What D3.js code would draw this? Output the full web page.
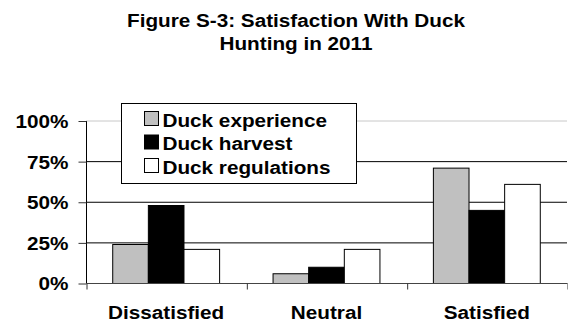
<!DOCTYPE html>
<html>
<head>
<meta charset="utf-8">
<script src="https://cdn.jsdelivr.net/npm/d3@7"></script>
<style>
  body { margin: 0; background: #fff; }
  text { font-family: "Liberation Sans", Arial, sans-serif; font-weight: bold; fill: #000; }
</style>
</head>
<body>
<div class="container"></div>
<script>
const categories = ["Dissatisfied", "Neutral", "Satisfied"]
const seriesNames = ["Duck experience", "Duck harvest", "Duck regulations"]
const experience = [24, 6, 71]
const harvest = [48, 10, 45]
const regulations = [21, 21, 61]
const yTicks = [0, 25, 50, 75, 100]

const w = 568
const h = 327
const colors = ["#c0c0c0", "#000000", "#ffffff"]
const series = [experience, harvest, regulations]

// the original picture is a bit wider than it is tall, so text gets stretched
const stretch = sel => sel.each(function () {
    const len = this.getComputedTextLength()
    d3.select(this).attr("textLength", len * 1.15).attr("lengthAdjust", "spacingAndGlyphs")
})

const svg = d3.select(".container")
              .append("svg")
              .attr("width", w)
              .attr("height", h)

// title
svg.append("text")
   .attr("x", 296).attr("y", 27)
   .attr("text-anchor", "middle")
   .style("font-size", "18px")
   .text("Figure S-3: Satisfaction With Duck")
   .call(stretch)
svg.append("text")
   .attr("x", 296).attr("y", 50)
   .attr("text-anchor", "middle")
   .style("font-size", "18px")
   .text("Hunting in 2011")
   .call(stretch)

const plotLeft = 86, plotRight = 567, plotTop = 121, plotBottom = 283.5

const xScale = d3.scaleBand()
                 .domain(categories)
                 .range([plotLeft, plotRight])
const xInner = d3.scaleBand()
                 .domain(d3.range(series.length))
                 .range([0, xScale.bandwidth()])
                 .paddingOuter(0.75)
const yScale = d3.scaleLinear()
                 .domain([0, 100])
                 .range([plotBottom, plotTop])

// gridlines
svg.append("g")
   .selectAll("line")
   .data(yTicks.filter(d => d > 0))
   .enter()
   .append("line")
   .attr("x1", plotLeft).attr("x2", plotRight)
   .attr("y1", d => yScale(d)).attr("y2", d => yScale(d))
   .attr("stroke", d => d == 100 ? "#c8c8c8" : "#000")
   .attr("stroke-width", 1)

// bars
categories.forEach((c, ci) => {
    svg.append("g")
       .selectAll("rect")
       .data(series.map((s, si) => ({ v: s[ci], si: si })))
       .enter()
       .append("rect")
       .attr("x", d => xScale(c) + xInner(d.si))
       .attr("y", d => yScale(d.v))
       .attr("width", xInner.bandwidth())
       .attr("height", d => plotBottom - yScale(d.v))
       .attr("fill", d => colors[d.si])
       .attr("stroke", "#000")
       .attr("stroke-width", 1)
})

// axes
const yAxis = d3.axisLeft(yScale)
                .tickValues(yTicks)
                .tickFormat(d => d + "%")
                .tickSize(8)
                .tickPadding(10)
svg.append("g")
   .attr("transform", `translate(${plotLeft + 0.5}, 0)`)
   .call(yAxis)
   .call(g => g.select(".domain").attr("stroke", "#000").attr("d", `M0,${plotTop}V${plotBottom}`))
   .call(g => g.selectAll("line").attr("stroke", "#333"))
   .call(g => g.selectAll("text").attr("font-family", null).attr("font-size", null)
                .style("font-size", "18px").attr("dy", "0.36em").call(stretch))

const xAxis = d3.axisBottom(d3.scaleLinear().domain([0, 3]).range([plotLeft, plotRight]))
                .tickValues([0, 1, 2, 3])
                .tickSize(6)
                .tickFormat("")
svg.append("g")
   .attr("transform", `translate(0.5, ${plotBottom})`)
   .call(xAxis)
   .call(g => g.select(".domain").attr("d", `M${plotLeft},0H${plotRight}`).attr("stroke", "#444"))
   .call(g => g.selectAll("line").attr("stroke", "#333"))

svg.append("g")
   .selectAll("text")
   .data(categories)
   .enter()
   .append("text")
   .attr("x", d => xScale(d) + xScale.bandwidth() / 2)
   .attr("y", 319)
   .attr("text-anchor", "middle")
   .style("font-size", "18px")
   .text(d => d)
   .call(stretch)

// legend
const legend = svg.append("g").attr("transform", "translate(121.5, 103.5)")
legend.append("rect")
      .attr("width", 235).attr("height", 80)
      .attr("fill", "#fff").attr("stroke", "#000")
seriesNames.forEach((n, i) => {
    const row = legend.append("g").attr("transform", `translate(23, ${8 + i * 23.5})`)
    row.append("rect")
       .attr("width", 14).attr("height", 14)
       .attr("fill", colors[i]).attr("stroke", "#000")
    row.append("text")
       .attr("x", 18).attr("y", 15)
       .style("font-size", "18px")
       .text(n)
       .call(stretch)
})
</script>
</body>
</html>
